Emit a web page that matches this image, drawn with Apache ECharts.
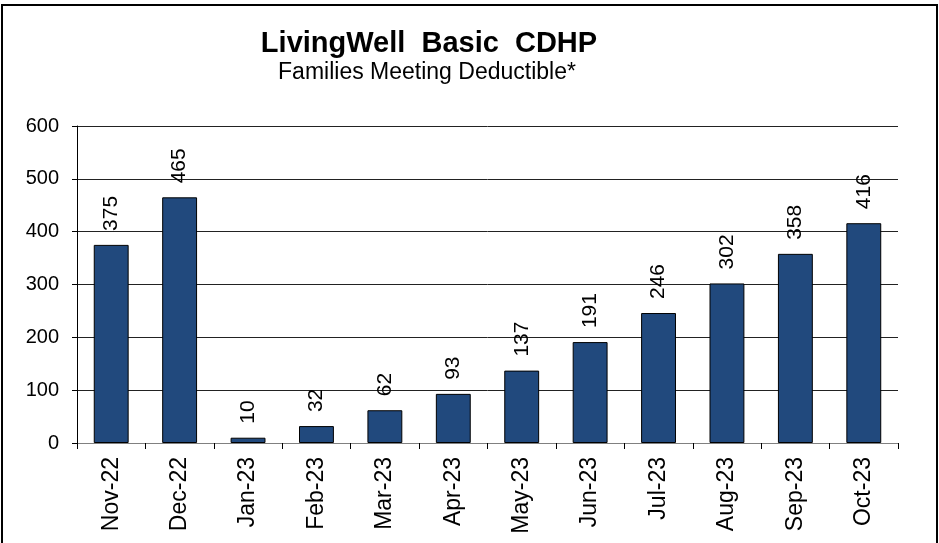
<!DOCTYPE html>
<html>
<head>
<meta charset="utf-8">
<script src="https://cdn.jsdelivr.net/npm/echarts@6/dist/echarts.min.js"></script>
<style>
html,body{margin:0;padding:0;background:#fff;}
#chart{width:939px;height:543px;}
</style>
</head>
<body>
<div id="chart"></div>
<script>
const titleText = 'LivingWell  Basic  CDHP';
const subtitleText = 'Families Meeting Deductible*';
const categories = ['Nov-22','Dec-22','Jan-23','Feb-23','Mar-23','Apr-23','May-23','Jun-23','Jul-23','Aug-23','Sep-23','Oct-23'];
const values = [375, 465, 10, 32, 62, 93, 137, 191, 246, 302, 358, 416];
const yTicks = [0, 100, 200, 300, 400, 500, 600];

const FONT = "'Liberation Sans', Arial, sans-serif";
const chart = echarts.init(document.getElementById('chart'), null, {renderer: 'canvas'});
chart.setOption({
  animation: false,
  backgroundColor: '#fff',
  graphic: [
    {type: 'rect', shape: {x: 2, y: 5, width: 935, height: 545}, style: {fill: 'none', stroke: '#000', lineWidth: 2}, z: 100},
    {type: 'text', x: 429, y: 44, style: {text: titleText, font: "bold 29px " + FONT, fill: '#000', textAlign: 'center', textVerticalAlign: 'middle'}},
    {type: 'text', x: 427, y: 73, style: {text: subtitleText, font: "23px " + FONT, fill: '#000', textAlign: 'center', textVerticalAlign: 'middle'}}
  ],
  grid: {left: 77, right: 41, top: 126, bottom: 100, containLabel: false},
  xAxis: {
    type: 'category',
    data: categories,
    boundaryGap: true,
    axisLine: {show: true, lineStyle: {color: '#808080', width: 1}},
    axisTick: {show: true, length: 6, lineStyle: {color: '#000'}},
    axisLabel: {rotate: 90, fontSize: 23, fontFamily: FONT, color: '#000', margin: 14, interval: 0}
  },
  yAxis: {
    type: 'value',
    min: yTicks[0],
    max: yTicks[yTicks.length - 1],
    interval: 100,
    axisLine: {show: true, lineStyle: {color: '#000', width: 1}},
    axisTick: {show: true, length: 5, lineStyle: {color: '#000'}},
    axisLabel: {fontSize: 20, fontFamily: FONT, color: '#000', margin: 18},
    splitLine: {show: true, lineStyle: {color: '#222', width: 1}}
  },
  series: [{
    type: 'bar',
    data: values,
    barCategoryGap: '49%',
    itemStyle: {color: '#21497d', borderColor: '#000', borderWidth: 1},
    label: {
      show: true,
      position: 'top',
      rotate: 90,
      align: 'left',
      verticalAlign: 'middle',
      distance: 14,
      fontSize: 21,
      fontFamily: FONT,
      color: '#000'
    }
  }]
});
</script>
</body>
</html>
